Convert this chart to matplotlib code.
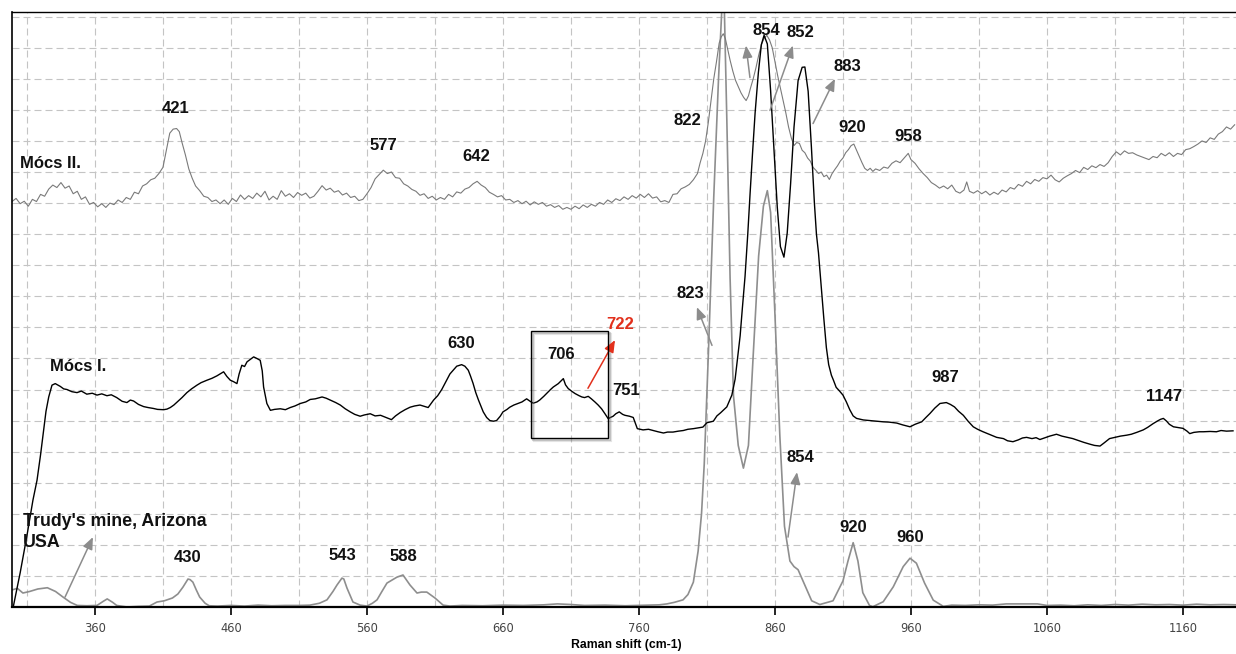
import matplotlib
matplotlib.use("Agg")
import matplotlib.pyplot as plt
from matplotlib.patches import Rectangle
import matplotlib.transforms as mtransforms

# ---------------- data (Raman shift cm-1, relative intensity in grid units) ----------------
trudy_x = [299, 303, 307, 312, 318, 325, 331, 336.5, 342, 347, 354, 361.5, 366, 369, 373, 376, 383.5, 392,
           400, 405.6, 411, 417, 421, 424.7, 428.4, 430, 432, 434.5, 437, 441, 444, 450, 460, 470, 480, 490,
           500, 510, 518, 525, 530.6, 535, 538, 541.6, 543, 545.3, 549.7, 555, 560, 564, 567.4, 571, 574.7,
           582, 586.5, 591.6, 596.8, 600, 604, 610, 616, 621, 630, 645, 660, 675, 690, 700, 710, 720, 735,
           750, 765, 775, 780.6, 786, 792.4, 796, 800, 803.5, 806, 808, 811, 815, 818.5, 821, 822.5, 824.6,
           827, 829.5, 833, 836.8, 840.5, 844, 848, 851.5, 854.4, 856.8, 860, 863.6, 867, 871, 874, 877, 882,
           887, 893, 902.7, 910, 913.7, 917.5, 921, 924.6, 929.5, 932, 939.6, 947, 954.3, 959.3, 964, 970,
           976.4, 983.8, 990, 1000, 1010, 1020, 1030, 1040, 1053, 1060, 1070, 1080, 1090, 1100, 1110, 1120,
           1130, 1140, 1150, 1160, 1170, 1180, 1190, 1199]
trudy_y = [0.55, 0.6, 0.45, 0.5, 0.58, 0.62, 0.5, 0.32, 0.15, 0.05, 0.04, 0.05, 0.18, 0.26, 0.15, 0.05, 0.0, 0.02,
           0.03, 0.16, 0.2, 0.29, 0.42, 0.64, 0.9, 0.88, 0.8, 0.55, 0.32, 0.12, 0.04, 0.03, 0.05, 0.03, 0.06, 0.04,
           0.05, 0.05, 0.06, 0.12, 0.23, 0.5, 0.71, 0.93, 0.9, 0.61, 0.16, 0.06, 0.03, 0.12, 0.23, 0.5, 0.77,
           0.96, 1.03, 0.71, 0.45, 0.48, 0.48, 0.29, 0.06, 0.03, 0.05, 0.04, 0.06, 0.05, 0.07, 0.1, 0.08, 0.05, 0.06,
           0.04, 0.06, 0.07, 0.1, 0.15, 0.23, 0.4, 0.8, 1.8, 3.0, 4.6, 8.1, 13.2, 17.0, 19.3, 19.8, 15.7,
           10.6, 6.8, 5.2, 4.47, 5.2, 8.1, 11.3, 12.9, 13.4, 12.7, 9.4, 5.5, 2.6, 1.48, 1.3, 1.2, 0.7,
           0.2, 0.08, 0.2, 0.84, 1.48, 2.07, 1.48, 0.46, 0.05, 0.01, 0.17, 0.65, 1.3, 1.57, 1.41, 0.77,
           0.22, 0.02, 0.06, 0.05, 0.07, 0.06, 0.1, 0.1, 0.1, 0.05, 0.06, 0.04, 0.07, 0.05, 0.08, 0.06,
           0.09, 0.07, 0.08, 0.06, 0.09, 0.07, 0.08, 0.07]

mocs1_x = [299.9, 305, 310, 314.4, 317.4, 320, 322.3, 324, 326, 328.4, 330.8, 334.5, 337, 339.4, 343, 346.8, 350,
           354, 358, 361.5, 365, 368.8, 372, 376, 380, 383.5, 386, 388.4, 392, 395.8, 399, 403, 406, 410.5, 413,
           415.4, 418, 420, 424, 427.6, 431, 435, 438, 442.4, 446, 449.7, 452, 454.6, 457, 459.5, 462, 464.4, 466,
           468, 470, 471.8, 474, 476.7, 479, 481.5, 483, 484, 486.4, 489, 492, 496.3, 500, 503.6, 507, 511, 515,
           518.3, 522, 527, 530, 533, 537, 540.4, 544, 547.7, 551, 555, 558, 562.4, 566, 570, 574, 578, 581,
           584.5, 588, 591.7, 595, 599, 602, 605, 609, 612, 615, 618, 621, 624, 626, 629.6, 632, 634.5, 636, 638,
           640, 642, 645.5, 648, 650.4, 653, 655.3, 658, 660, 663, 665, 668, 671, 674, 677.4, 680, 682.3, 685,
           687, 690, 692, 695, 697, 700.7, 702.5, 704.4, 706, 708, 711, 713, 716, 718, 720, 722.7, 725, 727.6,
           730, 732.5, 735, 737.4, 739, 741, 743, 745.5, 748, 749.7, 753, 755.8, 757.5, 758.8, 761, 763, 767,
           770.5, 774, 778, 781, 785, 789, 792.6, 796, 800, 803, 807, 810, 814.7, 817.3, 820, 824.6, 828.3,
           830.7, 832.5, 834.4, 836, 838, 840, 841.7, 843.5, 845.4, 847.8, 850, 852, 854.4, 856.8, 859.3,
           861.7, 864, 866.6, 869, 871.5, 874, 877, 880, 882, 884.4, 886.8, 889, 890.5, 892, 894, 895.9, 897.8,
           899.5, 901.5, 903, 905, 907.5, 910, 912.5, 915, 917.5, 920, 925, 930, 935, 939.6, 944, 949.5, 954,
           959.3, 963, 967.9, 971, 974, 977.5, 981.3, 986, 989, 992, 995, 998.5, 1002, 1005.8, 1009, 1013, 1018,
           1023, 1028, 1031, 1035, 1039, 1042, 1045, 1049, 1052, 1054.8, 1058, 1062, 1067, 1071, 1075, 1079,
           1083, 1087, 1091.6, 1095, 1099, 1102, 1106, 1110, 1114, 1118.6, 1122, 1126, 1130.8, 1134, 1138, 1141,
           1143.5, 1145.6, 1148, 1150, 1153, 1156, 1160, 1163, 1165, 1168, 1172, 1175, 1180, 1184.6, 1188, 1192,
           1196.8]
mocs1_y = [0.0, 1.1, 2.3, 3.44, 4.08, 4.9, 5.69, 6.3, 6.76, 7.14, 7.19, 7.1, 7.02, 7.0, 6.93, 6.9, 6.95,
           6.85, 6.88, 6.82, 6.86, 6.8, 6.83, 6.74, 6.62, 6.58, 6.66, 6.63, 6.52, 6.45, 6.42, 6.39, 6.36, 6.35, 6.37,
           6.42, 6.5, 6.58, 6.74, 6.9, 7.02, 7.14, 7.22, 7.3, 7.36, 7.44, 7.5, 7.57, 7.42, 7.3, 7.25, 7.19, 7.5,
           7.78, 7.74, 7.89, 7.96, 8.05, 8.0, 7.94, 7.6, 7.08, 6.55, 6.33, 6.36, 6.38, 6.35, 6.42, 6.47, 6.55, 6.6,
           6.68, 6.7, 6.76, 6.72, 6.66, 6.58, 6.5, 6.38, 6.28, 6.2, 6.14, 6.18, 6.22, 6.15, 6.17, 6.1, 6.03, 6.15,
           6.26, 6.35, 6.43, 6.47, 6.5, 6.46, 6.42, 6.66, 6.8, 7.0, 7.25, 7.5, 7.65, 7.75, 7.8, 7.75, 7.62, 7.45, 7.2,
           6.9, 6.66, 6.28, 6.1, 6.0, 5.98, 6.0, 6.14, 6.28, 6.36, 6.43, 6.5, 6.55, 6.6, 6.7, 6.62, 6.56, 6.6,
           6.66, 6.78, 6.87, 7.0, 7.08, 7.19, 7.27, 7.35, 7.15, 7.03, 6.93, 6.87, 6.8, 6.76, 6.74, 6.78, 6.7, 6.6,
           6.5, 6.38, 6.22, 6.06, 6.1, 6.14, 6.22, 6.28, 6.2, 6.17, 6.14, 6.1, 5.9, 5.74, 5.72, 5.7, 5.72,
           5.68, 5.64, 5.6, 5.63, 5.63, 5.66, 5.68, 5.72, 5.74, 5.76, 5.79, 5.93, 5.98, 6.15, 6.25, 6.44, 6.82,
           7.33, 8.0, 8.73, 9.6, 10.64, 12.0, 13.3, 14.6, 15.9, 17.2, 18.1, 18.4, 18.12, 16.62, 14.69,
           12.87, 11.6, 11.26, 12.03, 13.62, 15.44, 16.94, 17.37, 17.38, 16.6, 14.8, 13.0, 12.0, 11.4, 10.3, 9.3, 8.35,
           7.8, 7.46, 7.3, 7.07, 6.95, 6.82, 6.6, 6.35, 6.15, 6.07, 6.02, 6.0, 5.98, 5.96, 5.95, 5.92, 5.86,
           5.8, 5.88, 5.96, 6.1, 6.23, 6.4, 6.55, 6.58, 6.52, 6.44, 6.3, 6.17, 5.98, 5.8, 5.72, 5.64, 5.55,
           5.46, 5.42, 5.35, 5.32, 5.38, 5.44, 5.46, 5.42, 5.45, 5.39, 5.44, 5.5, 5.56, 5.5, 5.46, 5.42,
           5.36, 5.3, 5.24, 5.2, 5.18, 5.28, 5.42, 5.46, 5.5, 5.53, 5.56, 5.62, 5.7, 5.78, 5.9, 5.98,
           6.04, 6.07, 5.98, 5.88, 5.8, 5.78, 5.75, 5.66, 5.58, 5.62, 5.64, 5.64, 5.65, 5.64, 5.68, 5.66,
           5.67]

mocs2_x = [299, 302, 305, 308, 311, 314, 317, 320, 323, 326, 329, 332, 335, 338, 341, 344, 347, 350, 353, 356,
           359, 362, 365, 368, 371, 374, 377, 380, 383, 386, 389, 392, 395, 398, 401, 404, 407, 410, 412.5, 415,
           417.5, 420, 422, 424, 426.5, 429, 431.5, 434, 437, 440, 443, 446, 449, 452, 455, 458, 461, 464, 467,
           470, 473, 476, 479, 482, 485, 488, 491, 494, 497, 500, 503, 506, 509, 512, 515, 518, 521, 524, 527,
           530, 533, 536, 539, 542, 545, 548, 551, 554, 557, 560, 563, 566, 569, 572, 575, 578, 581, 584, 587,
           590, 593, 596, 599, 602, 605, 608, 611, 614, 617, 620, 623, 626, 629, 632, 635, 638, 641, 644, 647,
           650, 653, 656, 659, 662, 665, 668, 671, 674, 677, 680, 683, 686, 689, 692, 695, 698, 701, 704, 707,
           710, 713, 716, 719, 722, 725, 728, 731, 734, 737, 740, 743, 746, 749, 752, 755, 758, 761, 764, 767,
           770, 773, 776, 779, 782, 785, 788, 791, 794, 797, 800, 803, 805, 807, 809, 811, 813, 815, 817, 819,
           820.5, 822, 823.5, 825, 827, 829, 831, 833, 835, 837, 838.8, 840.5, 842, 844, 846, 848, 850, 852, 854,
           856, 858, 860, 862, 864, 866, 868, 870, 872, 874, 876, 878, 880, 882, 884, 886, 888, 890, 892, 894,
           896, 898, 900, 902, 904, 906, 908, 910, 912, 914, 916, 918, 920, 922, 924, 926, 928, 930, 932, 934,
           937, 940, 943, 946, 949, 952, 955, 958, 960, 963, 966, 969, 972, 975, 978, 981, 984, 987, 990, 993,
           996, 999, 1001, 1003, 1006, 1009, 1012, 1015, 1018, 1021, 1024, 1027, 1030, 1033, 1036, 1039, 1042,
           1045, 1048, 1051, 1054, 1057, 1060, 1063, 1066, 1069, 1072, 1075, 1078, 1081, 1084, 1087, 1090, 1093,
           1096, 1099, 1102, 1105, 1108, 1111, 1114, 1117, 1120, 1123, 1126, 1129, 1132, 1135, 1138, 1141, 1144,
           1147, 1150, 1153, 1156, 1159, 1162, 1165, 1168, 1171, 1174, 1177, 1180, 1183, 1186, 1189, 1192, 1195,
           1198]
mocs2_y = [13.05, 13.15, 12.98, 13.06, 12.9, 13.12, 13.05, 13.28, 13.22, 13.45, 13.58, 13.5, 13.66, 13.48, 13.55,
           13.3, 13.38, 13.12, 13.2, 12.96, 13.02, 12.88, 12.98, 12.86, 13.0, 12.95, 13.1, 13.02, 13.18, 13.12,
           13.35, 13.3, 13.55, 13.62, 13.75, 13.8, 13.95, 14.15, 14.7, 15.25, 15.38, 15.4, 15.3, 14.95, 14.55,
           14.1, 13.8, 13.55, 13.4, 13.22, 13.18, 13.05, 13.1, 12.98, 13.1, 12.96, 13.15, 13.05, 13.26, 13.12,
           13.24, 13.15, 13.32, 13.2, 13.38, 13.1, 13.22, 13.12, 13.4, 13.22, 13.3, 13.18, 13.34, 13.25, 13.32,
           13.16, 13.22, 13.38, 13.56, 13.42, 13.48, 13.35, 13.4, 13.26, 13.32, 13.18, 13.22, 13.08, 13.12, 13.3,
           13.5, 13.78, 13.92, 14.06, 13.95, 14.0, 13.82, 13.8, 13.62, 13.55, 13.44, 13.38, 13.25, 13.3, 13.15,
           13.22, 13.1, 13.18, 13.12, 13.28, 13.2, 13.36, 13.32, 13.45, 13.5, 13.62, 13.7, 13.58, 13.5, 13.35,
           13.28, 13.2, 13.24, 13.1, 13.12, 13.02, 13.08, 12.98, 13.06, 12.94, 13.04, 12.96, 13.02, 12.9, 12.95,
           12.86, 12.92, 12.8, 12.86, 12.8, 12.9, 12.82, 12.94, 12.86, 12.96, 12.9, 13.02, 12.96, 13.1, 13.02,
           13.14, 13.08, 13.2, 13.12, 13.24, 13.16, 13.28, 13.18, 13.3, 13.16, 13.2, 13.04, 13.08, 13.02, 13.28,
           13.3, 13.46, 13.52, 13.6, 13.75, 13.95, 14.3, 14.6, 15.0, 15.6, 16.3, 17.0, 17.55, 18.15, 18.35, 18.45,
           18.3, 18.0, 17.6, 17.25, 16.95, 16.75, 16.55, 16.4, 16.3, 16.45, 16.7, 17.0, 17.35, 17.75, 18.1, 18.3,
           18.4, 18.25, 18.0, 17.55, 17.1, 16.7, 16.3, 15.9, 15.45, 15.1, 14.85, 14.95, 14.92, 14.7, 14.62, 14.45,
           14.35, 14.15, 14.06, 13.95, 14.0, 13.85, 13.9, 13.76, 13.95, 14.08, 14.2, 14.35, 14.45, 14.62, 14.72,
           14.85, 14.9, 14.7, 14.5, 14.3, 14.12, 14.05, 14.12, 14.02, 14.1, 14.05, 14.16, 14.12, 14.28, 14.36,
           14.3, 14.45, 14.6, 14.4, 14.28, 14.1, 13.95, 13.82, 13.66, 13.58, 13.48, 13.55, 13.46, 13.58, 13.38,
           13.32, 13.42, 13.68, 13.38, 13.32, 13.4, 13.3, 13.38, 13.26, 13.35, 13.28, 13.42, 13.36, 13.5, 13.45,
           13.6, 13.54, 13.7, 13.62, 13.76, 13.7, 13.82, 13.78, 13.9, 13.75, 13.68, 13.8, 13.88, 13.95, 14.05,
           13.98, 14.15, 14.08, 14.2, 14.14, 14.24, 14.18, 14.3, 14.5, 14.65, 14.55, 14.68, 14.6, 14.62, 14.55,
           14.5, 14.45, 14.4, 14.5, 14.46, 14.6, 14.52, 14.62, 14.5, 14.6, 14.56, 14.72, 14.75, 14.82, 14.9,
           15.0, 14.95, 15.1, 15.05, 15.22, 15.3, 15.45, 15.38, 15.52]

tick_values = [360, 460, 560, 660, 760, 860, 960, 1060, 1160]
tick_labels = ["360", "460", "560", "660", "760", "860", "960", "1060", "1160"]
grid_x = list(range(310, 1200, 50))
grid_y = list(range(1, 20))

# peak labels: (text, x, y)
peak_labels = [("421", 419.6, 16.05), ("577", 571.8, 14.86), ("642", 640.1, 14.5), ("822", 795.3, 15.66),
               ("854", 853.4, 18.55), ("852", 878.4, 18.49), ("883", 913.0, 17.4), ("920", 916.6, 15.43),
               ("958", 957.8, 15.14), ("630", 629.1, 8.49), ("706", 702.6, 8.13), ("751", 750.4, 6.98),
               ("823", 797.5, 10.1), ("987", 985.0, 7.4), ("1147", 1146.0, 6.78), ("430", 428.4, 1.58),
               ("543", 541.6, 1.67), ("588", 586.5, 1.64), ("854", 878.4, 4.82), ("920", 917.4, 2.57),
               ("960", 959.3, 2.25)]
# arrows: (x_tail, y_tail, x_head, y_head)
grey_arrows = [(338.0, 0.32, 358.5, 2.25), (841.6, 17.04, 838.7, 18.07), (856.3, 15.98, 873.2, 18.07),
               (888.0, 15.56, 904.1, 17.0), (813.7, 8.42, 802.6, 9.65), (869.6, 2.25, 876.2, 4.34)]
red_arrow = (722.5, 7.04, 742.4, 8.59)
red_label = ("722", 746.0, 9.1)
box = (680.6, 5.43, 737.2, 8.87)

# ---------------- figure ----------------
W, H = 1236, 654
fig = plt.figure(figsize=(W / 100, H / 100), dpi=100)
fig.patch.set_facecolor("white")
ax = fig.add_axes([12 / W, (H - 607) / H, 1 - 12 / W, (607 - 12) / H])
ax.set_xlim(299, 1199)
ax.set_ylim(0, 19.15)

gridkw = dict(color="#c4c4c4", lw=0.8, linestyle=(0, (6.3, 3.6)), zorder=0)
for gx in grid_x:
    ax.axvline(gx, **gridkw)
for gy in grid_y:
    ax.axhline(gy, **gridkw)

ax.plot(trudy_x, trudy_y, color="#8e8e8e", lw=1.2, zorder=2)
ax.plot(mocs2_x, mocs2_y, color="#7a7a7a", lw=0.8, zorder=2)
ax.plot(mocs1_x, mocs1_y, color="black", lw=1.0, zorder=3)

ax.set_xticks(tick_values)
ax.set_xticklabels(tick_labels, fontfamily="DejaVu Sans", fontsize=8.3, color="#444444")
ax.set_yticks([])
ax.tick_params(axis="x", direction="out", length=6, width=1.2, pad=5, color="black")
for side in ["left", "top", "bottom"]:
    ax.spines[side].set_color("black")
ax.spines["left"].set_linewidth(1.2)
ax.spines["top"].set_linewidth(1.0)
ax.spines["bottom"].set_linewidth(1.6)
ax.spines["right"].set_visible(False)

bold = dict(fontfamily="Liberation Sans", fontweight="bold", fontsize=12, color="#111111", zorder=5)
for t, x, y in peak_labels:
    ax.text(x, y, t, ha="center", va="center", **bold)
ax.text(red_label[1], red_label[2], red_label[0], ha="center", va="center",
        **{**bold, "color": "#e2301c"})

ax.text(304.9, 14.28, "Mócs II.", ha="left", va="center", **bold)
ax.text(326.9, 7.75, "Mócs I.", ha="left", va="center", **bold)
ax.text(307.1, 2.75, "Trudy's mine, Arizona", ha="left", va="center", **{**bold, "fontsize": 12.8})
ax.text(307.1, 2.07, "USA", ha="left", va="center", **{**bold, "fontsize": 12.8})

astyle = "-|>,head_length=0.6,head_width=0.25"
for x0, y0, x1, y1 in grey_arrows:
    ax.annotate("", xy=(x1, y1), xytext=(x0, y0),
                arrowprops=dict(arrowstyle=astyle, color="#8c8c8c", lw=1.1, mutation_scale=12,
                                shrinkA=0, shrinkB=0), zorder=4)
x0, y0, x1, y1 = red_arrow
ax.annotate("", xy=(x1, y1), xytext=(x0, y0),
            arrowprops=dict(arrowstyle=astyle, color="#e2301c", lw=1.1, mutation_scale=12,
                            shrinkA=0, shrinkB=0), zorder=4)

bx0, by0, bx1, by1 = box
# soft shadow (outline offset to lower right)
for off, a in [(3, 0.18), (2, 0.3)]:
    sh_tr = mtransforms.offset_copy(ax.transData, fig=fig, x=off, y=-off, units="dots")
    ax.add_patch(Rectangle((bx0, by0), bx1 - bx0, by1 - by0, fill=False, edgecolor="#707070",
                           lw=1.5, alpha=a, transform=sh_tr, zorder=3.8))
ax.add_patch(Rectangle((bx0, by0), bx1 - bx0, by1 - by0, fill=False, edgecolor="black", lw=1.0, zorder=4))

fig.text(626 / W, 1 - 645 / H, "Raman shift (cm-1)", ha="center", va="center",
         fontfamily="Liberation Sans", fontweight="bold", fontsize=8.8, color="black")

fig.savefig("out.png", dpi=100, facecolor="white")
